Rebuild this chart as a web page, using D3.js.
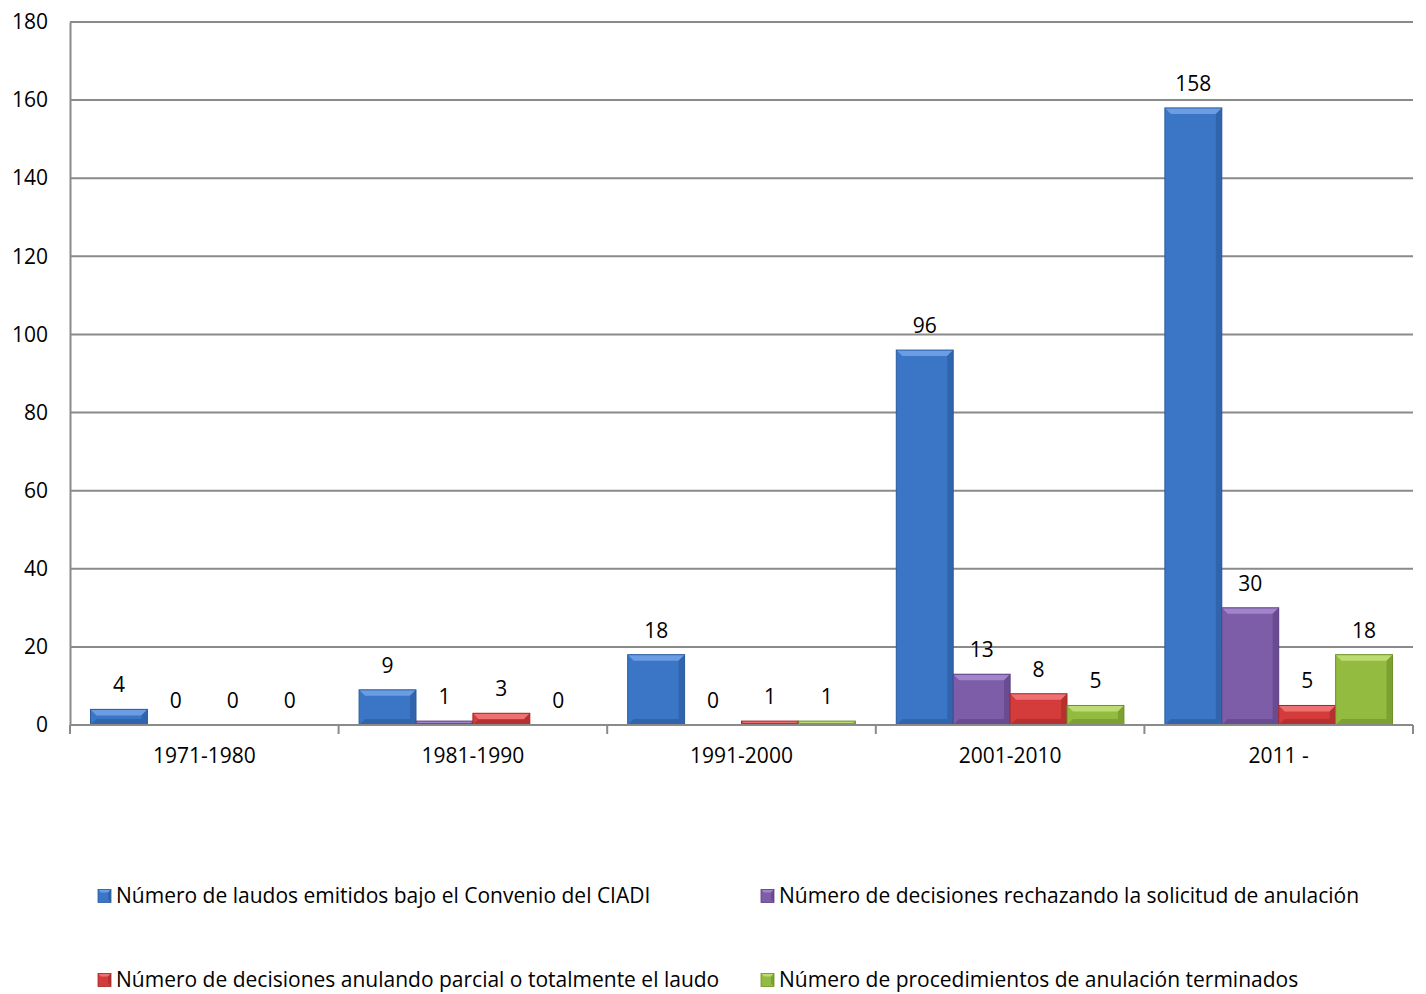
<!DOCTYPE html>
<html>
<head>
<meta charset="utf-8">
<script src="https://cdn.jsdelivr.net/npm/d3@7"></script>
<style>
  body { margin: 0; background: #fff; }
  text { font-family: "Open Sans", "Noto Sans", sans-serif; fill: #000; }
</style>
</head>
<body>
<div id="chart"></div>
<script>
let categories = ["1971-1980", "1981-1990", "1991-2000", "2001-2010", "2011 -"]
let seriesNames = [
    "Número de laudos emitidos bajo el Convenio del CIADI",
    "Número de decisiones rechazando la solicitud de anulación",
    "Número de decisiones anulando parcial o totalmente el laudo",
    "Número de procedimientos de anulación terminados"
]
let laudos = [4, 9, 18, 96, 158]
let rechazando = [0, 1, 0, 13, 30]
let anulando = [0, 3, 1, 8, 5]
let terminados = [0, 0, 1, 5, 18]
let yTicks = [0, 20, 40, 60, 80, 100, 120, 140, 160, 180]

// body, light (top bevel), dark (side/bottom bevel)
let colors = [
    {body: "#3b76c6", light: "#6a9de3", dark: "#2a5a9e"},
    {body: "#7d5ca8", light: "#a184cb", dark: "#5b3f82"},
    {body: "#d43c3c", light: "#ef7070", dark: "#a42828"},
    {body: "#93bb3f", light: "#bcdc72", dark: "#6d8f26"}
]

let series = [laudos, rechazando, anulando, terminados]

let W = 1426, H = 994
let margin = {top: 22, right: 13, bottom: 269, left: 70}
let width = W - margin.left - margin.right
let height = H - margin.top - margin.bottom
let fs = "21px"

let svg = d3.select("#chart")
    .append("svg")
    .attr("width", W)
    .attr("height", H)

let g = svg.append("g")
    .attr("transform", "translate(" + margin.left + "," + margin.top + ")")

let x0 = d3.scaleBand()
    .domain(categories)
    .range([0, width])
    .paddingInner(0)
    .paddingOuter(0)

let x1 = d3.scaleBand()
    .domain(d3.range(series.length))
    .range([0, x0.bandwidth()])
    .paddingOuter(0.36)
    .paddingInner(0)

let y = d3.scaleLinear()
    .domain([0, 180])
    .range([height, 0])

// gridlines
g.append("g")
    .selectAll("line")
    .data(yTicks.filter(d => d > 0))
    .enter()
    .append("line")
    .attr("x1", 0)
    .attr("x2", width)
    .attr("y1", d => y(d))
    .attr("y2", d => y(d))
    .attr("stroke", "#8a8a8a")
    .attr("stroke-width", 2)

// y axis
let yAxis = g.append("g")
    .call(d3.axisLeft(y).tickValues(yTicks).tickSize(0).tickPadding(22))
yAxis.select(".domain").attr("stroke", "#8a8a8a").attr("stroke-width", 2)
yAxis.selectAll("text")
    .style("font-size", fs)
    .style("font-family", "'Open Sans', 'Noto Sans', sans-serif")
    .attr("fill", "#000")

// bars
let bev = 6
categories.forEach((cat, ci) => {
    series.forEach((vals, si) => {
        let v = vals[ci]
        let bx = x0(cat) + x1(si)
        let bw = x1.bandwidth()
        let by = y(v)
        let bh = y(0) - y(v)
        let c = colors[si]
        let bar = g.append("g")
        if (bh > 0) {
            let b = Math.min(bev, bh / 2, bw / 2)
            bar.append("rect")
                .attr("x", bx).attr("y", by)
                .attr("width", bw).attr("height", bh)
                .attr("fill", c.body)
            // top bevel
            bar.append("polygon")
                .attr("points", [[bx, by], [bx + bw, by], [bx + bw - b, by + b], [bx + b, by + b]].join(" "))
                .attr("fill", c.light)
            // right bevel
            bar.append("polygon")
                .attr("points", [[bx + bw, by], [bx + bw, by + bh], [bx + bw - b, by + bh - b], [bx + bw - b, by + b]].join(" "))
                .attr("fill", c.dark).attr("opacity", 0.6)
            // bottom bevel
            bar.append("polygon")
                .attr("points", [[bx, by + bh], [bx + bw, by + bh], [bx + bw - b, by + bh - b], [bx + b, by + bh - b]].join(" "))
                .attr("fill", c.dark).attr("opacity", 0.6)
            bar.append("rect")
                .attr("x", bx).attr("y", by)
                .attr("width", bw).attr("height", bh)
                .attr("fill", "none")
                .attr("stroke", c.dark)
                .attr("stroke-width", 1)
        }
        bar.append("text")
            .attr("x", bx + bw / 2)
            .attr("y", by - 17)
            .attr("text-anchor", "middle")
            .style("font-size", fs)
            .text(v)
    })
})

// x axis
let xAxis = g.append("g")
    .attr("transform", "translate(0," + height + ")")
xAxis.append("line")
    .attr("x1", 0).attr("x2", width)
    .attr("stroke", "#8a8a8a").attr("stroke-width", 2)
xAxis.selectAll(".tick")
    .data(d3.range(categories.length + 1))
    .enter()
    .append("line")
    .attr("x1", d => d * x0.step())
    .attr("x2", d => d * x0.step())
    .attr("y1", 0).attr("y2", 9)
    .attr("stroke", "#8a8a8a").attr("stroke-width", 2)
xAxis.selectAll(".lbl")
    .data(categories)
    .enter()
    .append("text")
    .attr("x", d => x0(d) + x0.bandwidth() / 2)
    .attr("y", 38)
    .attr("text-anchor", "middle")
    .style("font-size", fs)
    .text(d => d)

// legend
let legendPos = [[98, 896], [761, 896], [98, 980], [761, 980]]
let legend = svg.append("g")
seriesNames.forEach((name, i) => {
    let p = legendPos[i]
    let c = colors[i]
    let s = 13
    let lg = legend.append("g").attr("transform", "translate(" + p[0] + "," + (p[1] - s / 2) + ")")
    lg.append("rect").attr("width", s).attr("height", s).attr("fill", c.body)
    lg.append("polygon").attr("points", [[0, 0], [s, 0], [s - 3, 3], [3, 3]].join(" ")).attr("fill", c.light)
    lg.append("polygon").attr("points", [[s, 0], [s, s], [s - 3, s - 3], [s - 3, 3]].join(" ")).attr("fill", c.dark).attr("opacity", 0.6)
    lg.append("rect").attr("width", s).attr("height", s).attr("fill", "none").attr("stroke", c.dark).attr("stroke-width", 0.8)
    legend.append("text")
        .attr("x", p[0] + 18)
        .attr("y", p[1])
        .attr("dy", "0.35em")
        .style("font-size", fs)
        .text(name)
})
</script>
</body>
</html>
